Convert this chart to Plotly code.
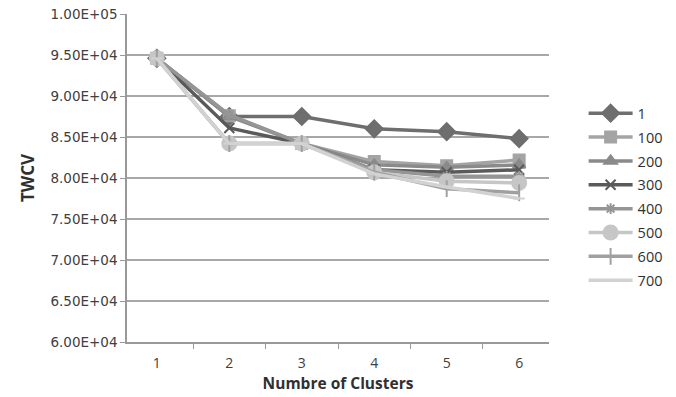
import plotly.graph_objects as go

clusters = ["1", "2", "3", "4", "5", "6"]
series_names = ["1", "100", "200", "300", "400", "500", "600", "700"]
s1 = [94600, 87500, 87500, 86000, 85650, 84800]
s100 = [94600, 87600, 84200, 82000, 81500, 82200]
s200 = [94600, 87500, 84200, 81600, 81300, 81600]
s300 = [94600, 86100, 84200, 81000, 80700, 81000]
s400 = [94600, 87700, 84200, 81000, 80200, 80200]
s500 = [94600, 84200, 84200, 80700, 79600, 79400]
s600 = [94600, 84200, 84200, 80700, 78700, 78200]
s700 = [94600, 84200, 84200, 80500, 78900, 77500]
y_tickvals = [60000, 65000, 70000, 75000, 80000, 85000, 90000, 95000, 100000]
y_ticktext = ["6.00E+04", "6.50E+04", "7.00E+04", "7.50E+04", "8.00E+04",
              "8.50E+04", "9.00E+04", "9.50E+04", "1.00E+05"]

all_series = [s1, s100, s200, s300, s400, s500, s600, s700]
colors = ["#6e6e6e", "#a4a4a4", "#8a8a8a", "#5a5a5a", "#959595", "#c6c6c6", "#a0a0a0", "#d2d2d2"]
symbols = ["diamond", "square", "triangle-up", "x-thin-open", "asterisk-open", "circle", "line-ns-open", "line-ew-open"]
sizes = [13, 11, 11, 10, 9, 14, 12, 8]

fig = go.Figure()
for name, vals, c, sym, sz in zip(series_names, all_series, colors, symbols, sizes):
    fig.add_trace(go.Scatter(
        x=clusters, y=vals, name=name, mode="lines+markers", legendgroup=name,
        line=dict(color=c, width=3.5),
        marker=dict(symbol=sym, size=sz, color=c, line=dict(color=c, width=2)),
    ))

fig.update_layout(
    width=676, height=397,
    margin=dict(l=127, r=127, t=14, b=55, autoexpand=False),
    paper_bgcolor="white", plot_bgcolor="white",
    font=dict(family="DejaVu Sans", size=13, color="#404040"),
    legend=dict(x=1.082, y=0.746, xanchor="left", yanchor="top",
                font=dict(family="Open Sans", size=14.5, color="#303030"),
                tracegroupgap=2, itemwidth=44, bgcolor="rgba(0,0,0,0)"),
    showlegend=True,
)
fig.update_xaxes(
    type="category", tickson="boundaries", ticks="outside", ticklen=5,
    tickcolor="#999999", showline=True, linecolor="#999999", linewidth=1.5,
    showgrid=False, automargin=False, ticklabelstandoff=7,
    tickfont=dict(family="Open Sans", size=14, color="#404040"),
    title=dict(text="<b>Numbre of Clusters</b>", standoff=4,
               font=dict(family="Open Sans", size=15.5, color="#303030")),
)
fig.update_yaxes(
    range=[60000, 100000], tickvals=y_tickvals, ticktext=y_ticktext,
    ticks="outside", ticklen=5, tickcolor="#999999",
    showline=True, linecolor="#999999", linewidth=1.5,
    showgrid=True, gridcolor="#a8a8a8", gridwidth=1.5, zeroline=False, automargin=False,
    tickfont=dict(family="DejaVu Sans", size=13.5, color="#404040"),
    title=dict(text="<b>TWCV</b>", standoff=12,
               font=dict(family="Open Sans", size=17, color="#303030")),
)
fig.write_html("out.html", config={"displayModeBar": False},
               post_script="document.body.style.margin='0';")
